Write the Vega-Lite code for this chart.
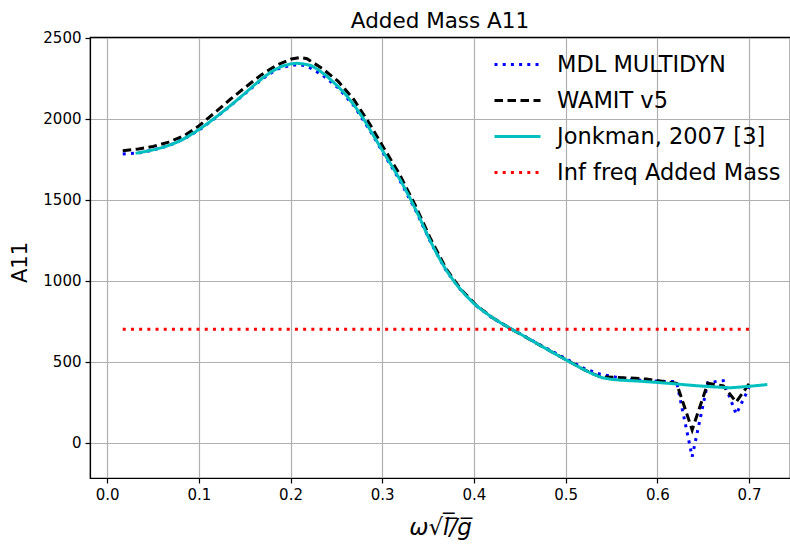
{
  "$schema": "https://vega.github.io/schema/vega-lite/v6.json",
  "autosize": "none",
  "width": 700,
  "height": 441,
  "padding": {"left": 90, "top": 37, "right": 0, "bottom": 68},
  "background": "white",
  "title": {"text": "Added Mass A11", "fontSize": 21.5, "font": "DejaVu Sans", "fontWeight": "normal", "color": "black", "offset": -2, "anchor": "middle"},
  "config": {
    "font": "DejaVu Sans",
    "view": {"stroke": "black", "strokeWidth": 1.2},
    "axis": {
      "labelFont": "DejaVu Sans", "labelFontSize": 15, "labelColor": "black",
      "titleFont": "DejaVu Sans", "titleFontSize": 21, "titleFontWeight": "normal", "titleColor": "black",
      "domainColor": "black", "domainWidth": 1.2, "tickColor": "black", "tickWidth": 1.2, "tickSize": 5,
      "gridColor": "#b0b0b0", "gridWidth": 1.2, "gridOpacity": 1, "labelPadding": 4
    },
    "legend": {
      "labelFont": "DejaVu Sans", "labelFontSize": 22.5, "labelColor": "black",
      "symbolType": "stroke", "symbolSize": 2116, "symbolStrokeWidth": 3,
      "labelOffset": 15, "rowPadding": -5.9, "padding": 0, "labelLimit": 400
    }
  },
  "datasets": {
    "curves": [
      {"series": "MDL MULTIDYN", "x": 0.017, "y": 1782},
      {"series": "MDL MULTIDYN", "x": 0.034, "y": 1787},
      {"series": "MDL MULTIDYN", "x": 0.05, "y": 1806},
      {"series": "MDL MULTIDYN", "x": 0.067, "y": 1833},
      {"series": "MDL MULTIDYN", "x": 0.084, "y": 1875},
      {"series": "MDL MULTIDYN", "x": 0.1, "y": 1928},
      {"series": "MDL MULTIDYN", "x": 0.117, "y": 2000},
      {"series": "MDL MULTIDYN", "x": 0.134, "y": 2077},
      {"series": "MDL MULTIDYN", "x": 0.151, "y": 2157},
      {"series": "MDL MULTIDYN", "x": 0.168, "y": 2240},
      {"series": "MDL MULTIDYN", "x": 0.185, "y": 2305},
      {"series": "MDL MULTIDYN", "x": 0.201, "y": 2330},
      {"series": "MDL MULTIDYN", "x": 0.21, "y": 2333},
      {"series": "MDL MULTIDYN", "x": 0.218, "y": 2325},
      {"series": "MDL MULTIDYN", "x": 0.235, "y": 2268},
      {"series": "MDL MULTIDYN", "x": 0.252, "y": 2190},
      {"series": "MDL MULTIDYN", "x": 0.269, "y": 2080},
      {"series": "MDL MULTIDYN", "x": 0.286, "y": 1932},
      {"series": "MDL MULTIDYN", "x": 0.302, "y": 1780},
      {"series": "MDL MULTIDYN", "x": 0.319, "y": 1620},
      {"series": "MDL MULTIDYN", "x": 0.336, "y": 1438},
      {"series": "MDL MULTIDYN", "x": 0.353, "y": 1234},
      {"series": "MDL MULTIDYN", "x": 0.37, "y": 1058},
      {"series": "MDL MULTIDYN", "x": 0.386, "y": 940},
      {"series": "MDL MULTIDYN", "x": 0.403, "y": 843},
      {"series": "MDL MULTIDYN", "x": 0.42, "y": 770},
      {"series": "MDL MULTIDYN", "x": 0.437, "y": 712},
      {"series": "MDL MULTIDYN", "x": 0.454, "y": 660},
      {"series": "MDL MULTIDYN", "x": 0.47, "y": 610},
      {"series": "MDL MULTIDYN", "x": 0.487, "y": 558},
      {"series": "MDL MULTIDYN", "x": 0.504, "y": 506},
      {"series": "MDL MULTIDYN", "x": 0.521, "y": 455},
      {"series": "MDL MULTIDYN", "x": 0.538, "y": 422},
      {"series": "MDL MULTIDYN", "x": 0.554, "y": 405},
      {"series": "MDL MULTIDYN", "x": 0.571, "y": 390},
      {"series": "MDL MULTIDYN", "x": 0.588, "y": 382},
      {"series": "MDL MULTIDYN", "x": 0.605, "y": 378},
      {"series": "MDL MULTIDYN", "x": 0.621, "y": 376},
      {"series": "MDL MULTIDYN", "x": 0.638, "y": -88},
      {"series": "MDL MULTIDYN", "x": 0.655, "y": 370},
      {"series": "MDL MULTIDYN", "x": 0.672, "y": 382},
      {"series": "MDL MULTIDYN", "x": 0.686, "y": 175},
      {"series": "MDL MULTIDYN", "x": 0.7, "y": 338},
      {"series": "WAMIT v5", "x": 0.017, "y": 1802},
      {"series": "WAMIT v5", "x": 0.034, "y": 1812},
      {"series": "WAMIT v5", "x": 0.05, "y": 1828},
      {"series": "WAMIT v5", "x": 0.067, "y": 1855},
      {"series": "WAMIT v5", "x": 0.084, "y": 1895},
      {"series": "WAMIT v5", "x": 0.1, "y": 1955},
      {"series": "WAMIT v5", "x": 0.117, "y": 2035},
      {"series": "WAMIT v5", "x": 0.134, "y": 2118},
      {"series": "WAMIT v5", "x": 0.151, "y": 2195},
      {"series": "WAMIT v5", "x": 0.168, "y": 2270},
      {"series": "WAMIT v5", "x": 0.185, "y": 2330},
      {"series": "WAMIT v5", "x": 0.201, "y": 2368},
      {"series": "WAMIT v5", "x": 0.21, "y": 2377},
      {"series": "WAMIT v5", "x": 0.218, "y": 2370},
      {"series": "WAMIT v5", "x": 0.235, "y": 2308},
      {"series": "WAMIT v5", "x": 0.252, "y": 2230},
      {"series": "WAMIT v5", "x": 0.269, "y": 2118},
      {"series": "WAMIT v5", "x": 0.286, "y": 1970},
      {"series": "WAMIT v5", "x": 0.302, "y": 1816},
      {"series": "WAMIT v5", "x": 0.319, "y": 1655},
      {"series": "WAMIT v5", "x": 0.336, "y": 1465},
      {"series": "WAMIT v5", "x": 0.353, "y": 1255},
      {"series": "WAMIT v5", "x": 0.37, "y": 1070},
      {"series": "WAMIT v5", "x": 0.386, "y": 945},
      {"series": "WAMIT v5", "x": 0.403, "y": 845},
      {"series": "WAMIT v5", "x": 0.42, "y": 772},
      {"series": "WAMIT v5", "x": 0.437, "y": 713},
      {"series": "WAMIT v5", "x": 0.454, "y": 659},
      {"series": "WAMIT v5", "x": 0.47, "y": 607},
      {"series": "WAMIT v5", "x": 0.487, "y": 553},
      {"series": "WAMIT v5", "x": 0.504, "y": 500},
      {"series": "WAMIT v5", "x": 0.521, "y": 447},
      {"series": "WAMIT v5", "x": 0.538, "y": 405},
      {"series": "WAMIT v5", "x": 0.554, "y": 402},
      {"series": "WAMIT v5", "x": 0.571, "y": 398},
      {"series": "WAMIT v5", "x": 0.588, "y": 392},
      {"series": "WAMIT v5", "x": 0.605, "y": 378},
      {"series": "WAMIT v5", "x": 0.621, "y": 366},
      {"series": "WAMIT v5", "x": 0.638, "y": 78},
      {"series": "WAMIT v5", "x": 0.655, "y": 366},
      {"series": "WAMIT v5", "x": 0.672, "y": 350},
      {"series": "WAMIT v5", "x": 0.686, "y": 250},
      {"series": "WAMIT v5", "x": 0.7, "y": 362},
      {"series": "Jonkman, 2007 [3]", "x": 0.031, "y": 1786},
      {"series": "Jonkman, 2007 [3]", "x": 0.04, "y": 1795},
      {"series": "Jonkman, 2007 [3]", "x": 0.05, "y": 1807},
      {"series": "Jonkman, 2007 [3]", "x": 0.06, "y": 1821},
      {"series": "Jonkman, 2007 [3]", "x": 0.07, "y": 1840},
      {"series": "Jonkman, 2007 [3]", "x": 0.08, "y": 1864},
      {"series": "Jonkman, 2007 [3]", "x": 0.09, "y": 1896},
      {"series": "Jonkman, 2007 [3]", "x": 0.1, "y": 1932},
      {"series": "Jonkman, 2007 [3]", "x": 0.11, "y": 1972},
      {"series": "Jonkman, 2007 [3]", "x": 0.12, "y": 2015},
      {"series": "Jonkman, 2007 [3]", "x": 0.13, "y": 2060},
      {"series": "Jonkman, 2007 [3]", "x": 0.14, "y": 2107},
      {"series": "Jonkman, 2007 [3]", "x": 0.15, "y": 2155},
      {"series": "Jonkman, 2007 [3]", "x": 0.16, "y": 2205},
      {"series": "Jonkman, 2007 [3]", "x": 0.17, "y": 2253},
      {"series": "Jonkman, 2007 [3]", "x": 0.18, "y": 2293},
      {"series": "Jonkman, 2007 [3]", "x": 0.19, "y": 2322},
      {"series": "Jonkman, 2007 [3]", "x": 0.2, "y": 2338},
      {"series": "Jonkman, 2007 [3]", "x": 0.207, "y": 2342},
      {"series": "Jonkman, 2007 [3]", "x": 0.215, "y": 2337},
      {"series": "Jonkman, 2007 [3]", "x": 0.223, "y": 2326},
      {"series": "Jonkman, 2007 [3]", "x": 0.23, "y": 2303},
      {"series": "Jonkman, 2007 [3]", "x": 0.24, "y": 2260},
      {"series": "Jonkman, 2007 [3]", "x": 0.25, "y": 2208},
      {"series": "Jonkman, 2007 [3]", "x": 0.26, "y": 2150},
      {"series": "Jonkman, 2007 [3]", "x": 0.27, "y": 2078},
      {"series": "Jonkman, 2007 [3]", "x": 0.28, "y": 1995},
      {"series": "Jonkman, 2007 [3]", "x": 0.29, "y": 1900},
      {"series": "Jonkman, 2007 [3]", "x": 0.3, "y": 1805},
      {"series": "Jonkman, 2007 [3]", "x": 0.31, "y": 1712},
      {"series": "Jonkman, 2007 [3]", "x": 0.32, "y": 1618},
      {"series": "Jonkman, 2007 [3]", "x": 0.33, "y": 1512},
      {"series": "Jonkman, 2007 [3]", "x": 0.34, "y": 1398},
      {"series": "Jonkman, 2007 [3]", "x": 0.35, "y": 1272},
      {"series": "Jonkman, 2007 [3]", "x": 0.36, "y": 1160},
      {"series": "Jonkman, 2007 [3]", "x": 0.37, "y": 1062},
      {"series": "Jonkman, 2007 [3]", "x": 0.38, "y": 982},
      {"series": "Jonkman, 2007 [3]", "x": 0.39, "y": 915},
      {"series": "Jonkman, 2007 [3]", "x": 0.4, "y": 858},
      {"series": "Jonkman, 2007 [3]", "x": 0.41, "y": 812},
      {"series": "Jonkman, 2007 [3]", "x": 0.42, "y": 772},
      {"series": "Jonkman, 2007 [3]", "x": 0.43, "y": 736},
      {"series": "Jonkman, 2007 [3]", "x": 0.44, "y": 704},
      {"series": "Jonkman, 2007 [3]", "x": 0.45, "y": 672},
      {"series": "Jonkman, 2007 [3]", "x": 0.46, "y": 640},
      {"series": "Jonkman, 2007 [3]", "x": 0.47, "y": 607},
      {"series": "Jonkman, 2007 [3]", "x": 0.48, "y": 575},
      {"series": "Jonkman, 2007 [3]", "x": 0.49, "y": 543},
      {"series": "Jonkman, 2007 [3]", "x": 0.5, "y": 512},
      {"series": "Jonkman, 2007 [3]", "x": 0.51, "y": 480},
      {"series": "Jonkman, 2007 [3]", "x": 0.52, "y": 450},
      {"series": "Jonkman, 2007 [3]", "x": 0.53, "y": 422},
      {"series": "Jonkman, 2007 [3]", "x": 0.54, "y": 400},
      {"series": "Jonkman, 2007 [3]", "x": 0.55, "y": 390},
      {"series": "Jonkman, 2007 [3]", "x": 0.56, "y": 385},
      {"series": "Jonkman, 2007 [3]", "x": 0.58, "y": 379},
      {"series": "Jonkman, 2007 [3]", "x": 0.6, "y": 371},
      {"series": "Jonkman, 2007 [3]", "x": 0.62, "y": 362},
      {"series": "Jonkman, 2007 [3]", "x": 0.64, "y": 352},
      {"series": "Jonkman, 2007 [3]", "x": 0.66, "y": 344},
      {"series": "Jonkman, 2007 [3]", "x": 0.68, "y": 338},
      {"series": "Jonkman, 2007 [3]", "x": 0.7, "y": 347},
      {"series": "Jonkman, 2007 [3]", "x": 0.72, "y": 358}
    ],
    "inf": [
      {"series": "Inf freq Added Mass", "x": 0.017, "y": 700},
      {"series": "Inf freq Added Mass", "x": 0.7, "y": 700}
    ]
  },
  "resolve": {"axis": {"x": "independent"}},
  "layer": [
    {
      "data": {"name": "curves"},
      "mark": {"type": "line", "strokeWidth": 3, "clip": true},
      "encoding": {
        "x": {"field": "x", "type": "quantitative",
          "scale": {"domain": [-0.0187, 0.7447], "nice": false, "zero": false},
          "axis": {"orient": "bottom", "values": [0, 0.1, 0.2, 0.3, 0.4, 0.5, 0.6, 0.7], "format": ".1f",
            "title": "ω√l̅/̅g̅", "titleFontStyle": "italic", "titleFontSize": 23, "titlePadding": 14}},
        "y": {"field": "y", "type": "quantitative",
          "scale": {"domain": [-219, 2504], "nice": false, "zero": false},
          "axis": {"values": [0, 500, 1000, 1500, 2000, 2500], "format": "d", "title": "A11", "titlePadding": 12, "titleY": 225}},
        "color": {"field": "series", "type": "nominal",
          "scale": {"domain": ["MDL MULTIDYN", "WAMIT v5", "Jonkman, 2007 [3]", "Inf freq Added Mass"],
                    "range": ["#0000ff", "#000000", "#00bfbf", "#ff0000"]},
          "legend": {"title": null, "orient": "none", "legendX": 403, "legendY": 3}},
        "strokeDash": {"field": "series", "type": "nominal",
          "scale": {"domain": ["MDL MULTIDYN", "WAMIT v5", "Jonkman, 2007 [3]", "Inf freq Added Mass"],
                    "range": [[3, 5.2], [8.5, 4.5], [1, 0], [3, 5.2]]},
          "legend": {"title": null, "orient": "none", "legendX": 403, "legendY": 3}}
      }
    },
    {
      "data": {"name": "inf"},
      "mark": {"type": "line", "strokeWidth": 3, "clip": true},
      "encoding": {
        "x": {"field": "x", "type": "quantitative",
          "scale": {"domain": [-0.0187, 0.7447], "nice": false, "zero": false},
          "axis": {"orient": "top", "labels": false, "ticks": false, "grid": false, "domain": true, "title": null}},
        "y": {"field": "y", "type": "quantitative"},
        "color": {"field": "series", "type": "nominal"},
        "strokeDash": {"field": "series", "type": "nominal"}
      }
    }
  ]
}
